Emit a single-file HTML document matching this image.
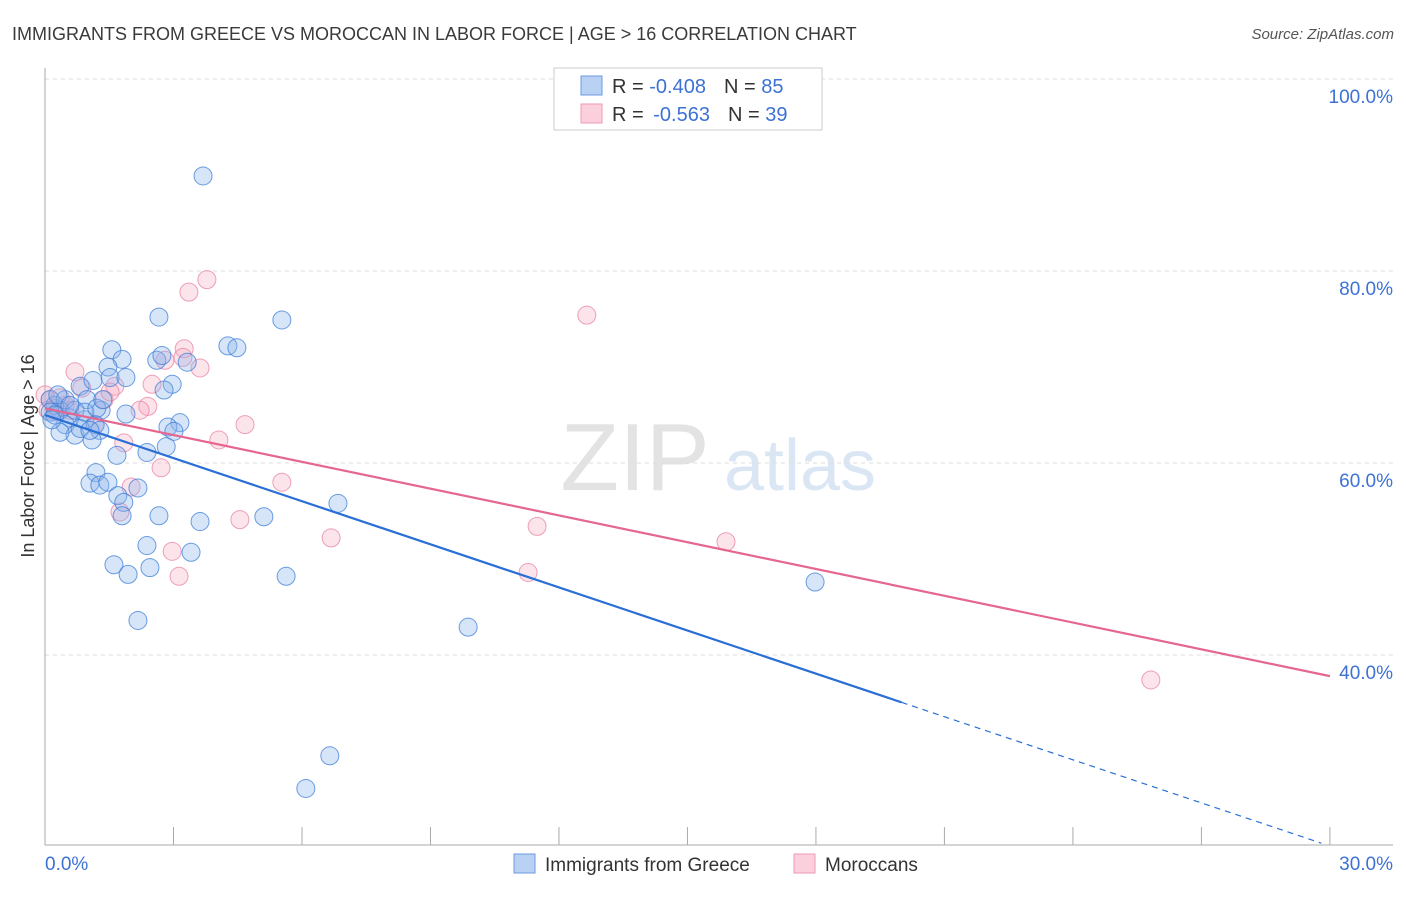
<!DOCTYPE html>
<html><head><meta charset="utf-8"><style>
body{margin:0;background:#fff;font-family:"Liberation Sans",sans-serif;}
svg text{font-family:"Liberation Sans",sans-serif;}
</style></head><body>
<svg id="chart" width="1406" height="892">
<text x="12" y="40" font-size="18" fill="#3a3a3a">IMMIGRANTS FROM GREECE VS MOROCCAN IN LABOR FORCE | AGE &gt; 16 CORRELATION CHART</text>
<text x="1394" y="39" font-size="15" fill="#555" font-style="italic" text-anchor="end">Source: ZipAtlas.com</text>
<text transform="translate(34,456) rotate(-90)" font-size="18" fill="#333" text-anchor="middle">In Labor Force | Age &gt; 16</text>
<g><text x="635" y="490" font-size="96" fill="#ddd" font-family="Liberation Serif" text-anchor="middle" opacity="0.8">ZIP</text><text x="800" y="490" font-size="72" fill="#d3e0f2" text-anchor="middle" opacity="0.8">atlas</text></g>
<g id="grid"></g><g id="axes"></g><g id="marks"></g><g id="lines"></g>
<g>
<rect x="554" y="68" width="268" height="62" fill="#fff" stroke="#ccc"/>
<rect x="581" y="76" width="21" height="19" fill="#b9d2f3" stroke="#6a9be0"/>
<rect x="581" y="104" width="21" height="19" fill="#fbd0dc" stroke="#ec9ab4"/>
<text x="612" y="93" font-size="20" fill="#333">R = <tspan fill="#3d72d4">-0.408</tspan><tspan dx="18">N = </tspan><tspan fill="#3d72d4">85</tspan></text>
<text x="612" y="121" font-size="20" fill="#333">R = <tspan dx="4" fill="#3d72d4">-0.563</tspan><tspan dx="18">N = </tspan><tspan fill="#3d72d4">39</tspan></text>
</g>
<g>
<rect x="514" y="854" width="21" height="19" fill="#b9d2f3" stroke="#6a9be0"/>
<text x="545" y="871" font-size="19" fill="#333">Immigrants from Greece</text>
<rect x="794" y="854" width="21" height="19" fill="#fbd0dc" stroke="#ec9ab4"/>
<text x="825" y="871" font-size="19" fill="#333">Moroccans</text>
</g>
<text x="45" y="870" font-size="19" fill="#3d72d4">0.0%</text>
<text x="1393" y="870" font-size="19" fill="#3d72d4" text-anchor="end">30.0%</text>
</svg>
<script>
const yTicks=[100,80,60,40];
const xTickVals=[0,3,6,9,12,15,18,21,24,27,30];
const greeceX=[3.69,2.66,5.53,4.27,4.48,1.56,1.80,2.61,2.73,1.47,1.52,1.89,2.97,2.78,3.32,0.82,1.12,0.98,1.31,1.89,3.15,2.87,3.01,0.35,0.58,0.23,0.12,0.47,0.70,0.93,1.17,1.28,1.10,0.35,0.82,0.12,1.68,2.38,2.83,1.19,1.05,1.28,1.47,2.17,1.70,1.84,1.80,2.66,3.62,5.11,6.84,2.38,3.41,1.61,2.45,1.94,5.63,2.17,9.88,17.98,6.65,6.09,0.23,0.47,0.70,0.93,0.30,0.16,0.58,1.05,1.21,1.35];
const greeceY=[89.9,75.2,74.9,72.2,72.0,71.8,70.8,70.7,71.2,70.0,68.9,68.9,68.2,67.6,70.5,68.0,68.6,66.6,65.5,65.1,64.2,63.75,63.3,65.5,64.7,66.0,66.6,64.0,62.9,64.5,64.0,63.4,62.4,63.2,63.6,65.3,60.8,61.1,61.7,59.0,57.9,57.7,58.0,57.4,56.6,55.9,54.5,54.5,53.9,54.4,55.8,51.4,50.7,49.4,49.1,48.4,48.2,43.6,42.9,47.6,29.5,26.1,65.0,66.6,65.5,65.3,67.1,64.5,66.0,63.4,65.7,66.6];
const morX=[3.78,3.36,12.65,0.70,0.86,1.63,2.50,2.80,3.25,3.22,3.62,2.40,2.22,1.38,1.17,4.67,4.06,1.84,2.71,5.53,2.01,1.75,4.55,6.68,11.49,15.90,2.97,3.13,11.28,25.82,0.12,0.35,0.23,0.47,0.0,0.58,0.07,0.30,1.52];
const morY=[79.1,77.8,75.4,69.5,67.8,68.0,68.2,70.7,71.9,71.0,69.9,65.9,65.5,66.6,64.0,64.0,62.4,62.1,59.5,58.0,57.5,54.9,54.1,52.2,53.4,51.8,50.8,48.2,48.6,37.4,66.6,66.8,65.7,66.0,67.1,65.5,65.5,65.3,67.4];
const greeceTrend=[65.0,20.1];
const morTrend=[65.7,37.8];
const NS='http://www.w3.org/2000/svg';
const sx=v=>45+v*42.83, sy=v=>79+(100-v)*9.6;
function mk(tag,attrs,parent){const e=document.createElementNS(NS,tag);for(const k in attrs)e.setAttribute(k,attrs[k]);document.getElementById(parent).appendChild(e);return e;}
yTicks.forEach(t=>{
 const g=mk('line',{x1:45,x2:1393,y1:sy(t),y2:sy(t),stroke:'#ddd','stroke-dasharray':'4,4'},'grid');
 
 
 const l=mk('text',{x:1393,y:sy(t)+24,'font-size':19,fill:'#3d72d4','text-anchor':'end'},'grid');
 l.textContent=t.toFixed(1)+'%';
 
 
});
const ax=mk('line',{x1:45,x2:45,y1:68,y2:845,stroke:'#aaa'},'axes');


const bx=mk('line',{x1:45,x2:1393,y1:845,y2:845,stroke:'#aaa'},'axes');


xTickVals.forEach(v=>{
 const t=mk('line',{x1:sx(v),x2:sx(v),y1:827,y2:845,stroke:'#aaa'},'axes');
 
 
});
function pts(X,Y,fill,stroke,name){X.forEach((x,i)=>{
 const c=mk('circle',{cx:sx(x),cy:sy(Y[i]),r:9,fill:fill,stroke:stroke,'stroke-width':1},'marks');
 
 
});}
pts(morX,morY,'rgba(245,165,190,0.3)','rgba(232,130,165,0.75)','moroccan-point');
pts(greeceX,greeceY,'rgba(140,180,235,0.35)','rgba(60,125,215,0.75)','greece-point');
const gAt=x=>greeceTrend[0]+(greeceTrend[1]-greeceTrend[0])*x/30;
const l1=mk('line',{x1:sx(0),y1:sy(gAt(0)),x2:sx(20),y2:sy(gAt(20)),stroke:'#2a6fd6','stroke-width':2.2},'lines');


const l2=mk('line',{x1:sx(20),y1:sy(gAt(20)),x2:sx(29.8),y2:sy(gAt(29.8)),stroke:'#2a6fd6','stroke-width':1.2,'stroke-dasharray':'6,5'},'lines');


const l3=mk('line',{x1:sx(0),y1:sy(morTrend[0]),x2:sx(30),y2:sy(morTrend[1]),stroke:'#e5668f','stroke-width':2.2},'lines');


</script>
</body></html>
